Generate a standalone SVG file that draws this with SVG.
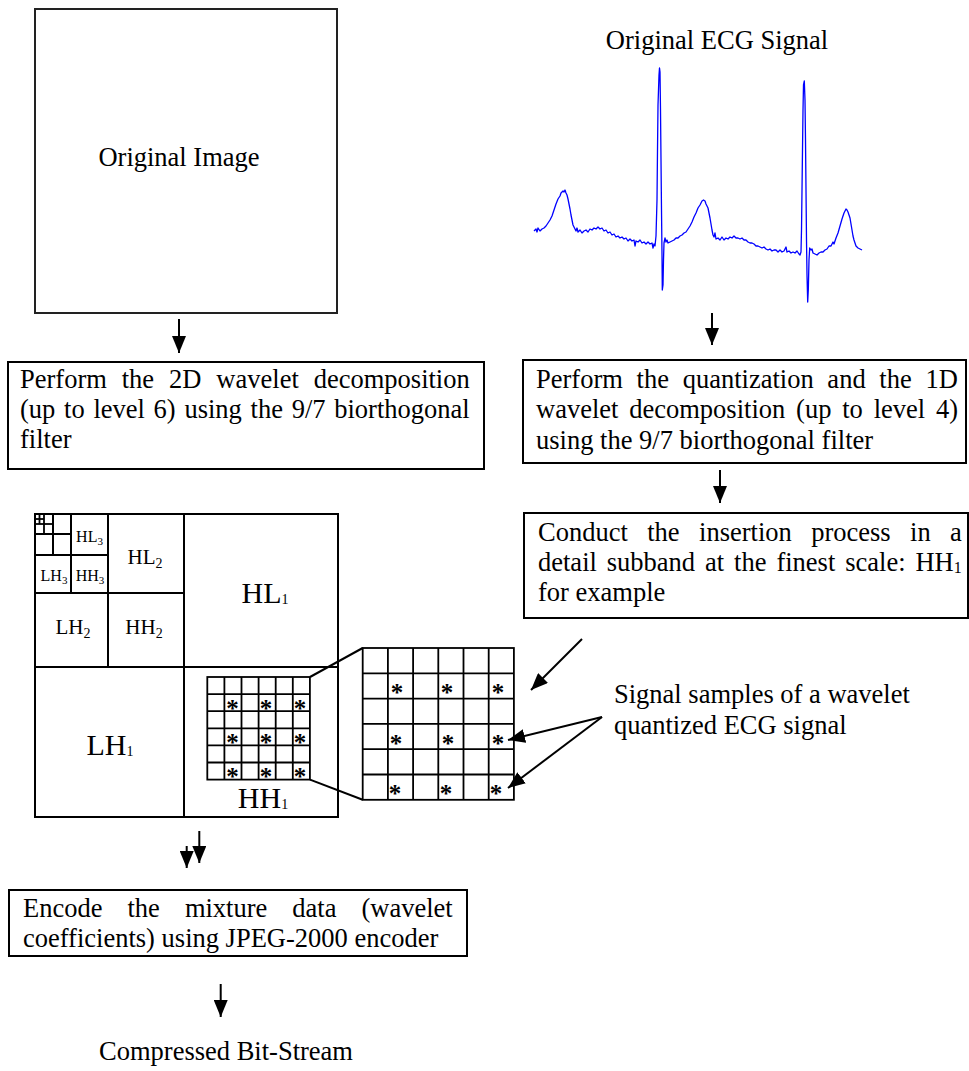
<svg xmlns="http://www.w3.org/2000/svg" width="969" height="1071" viewBox="0 0 969 1071">
<style>
  text { font-family: "Liberation Serif", "Times New Roman", serif; fill: #000; }
  .t { font-size: 26.5px; }
  .box { fill: #fff; stroke: #000; stroke-width: 2; }
  .ln { stroke: #000; stroke-width: 2; fill: none; }
  .gl { stroke: #000; stroke-width: 1.8; fill: none; }
  .arr { stroke: #000; stroke-width: 2; fill: none; marker-end: url(#ah); }
  .star { font-family: "Liberation Sans", Arial, sans-serif; font-size: 25px; font-weight: bold; }
</style>
<defs>
  <marker id="ah" markerUnits="userSpaceOnUse" markerWidth="18" markerHeight="14" refX="17" refY="7" orient="auto">
    <path d="M0,0 L17,7 L0,14 z" fill="#000"/>
  </marker>
</defs>
<rect width="969" height="1071" fill="#fff"/>

<g id="original-image">
  <rect x="35" y="9" width="302" height="304" fill="#fff" stroke="#222" stroke-width="2"/>
  <text class="t" x="179" y="166" text-anchor="middle">Original Image</text>
</g>

<g id="original-ecg">
  <text class="t" x="717" y="49" text-anchor="middle">Original ECG Signal</text>
  <polyline fill="none" stroke="#0000ff" stroke-width="1.3" stroke-linejoin="round" points="534,231 536,229 537,232 538,228 540,231 542,229 544,228 546,226 548,223 550,220 552,216 554,210 556,204 558,199 560,196 561,193 563,191 564,192 565,190 566,193 567,195 568,199 569,204 570,209 571,215 572,220 573,225 575,229 576,231 577,228 578,232 580,230 582,233 584,231 586,230 588,232 590,229 592,230 594,228 596,229 598,227 600,229 602,228 604,231 606,230 608,233 610,232 612,235 614,234 616,237 618,236 620,238 622,237 624,239 626,238 628,241 630,239 632,241 634,240 635,246 636,241 638,242 640,240 642,243 644,242 646,244 648,242 650,244 652,243 653,248 654,244 655,246 656,236 657,200 657.5,150 658,105 659,75 659.5,68 660,72 660.5,110 661,160 661.5,210 662,255 662.3,290 663,285 663.5,260 664,243 665,238 666,242 667,240 668,243 670,242 672,241 674,240 676,238 678,238 680,236 682,235 684,233 686,232 688,229 690,226 692,222 694,217 696,213 698,208 700,205 702,201 703.5,200 705,201 706,204 708,208 709,213 710,218 711,224 712,230 713,235 714,237 715,233 716,239 718,238 720,240 722,237 724,240 726,238 728,239 730,237 732,238 734,236 736,238 738,238 740,239 742,238 744,240 746,240 748,242 750,243 752,243 754,244 756,246 758,246 760,247 762,248 764,247 766,249 768,250 770,249 772,251 774,250 776,250 778,252 780,250 782,252 784,251 786,247 787,252 789,251 791,253 793,252 795,253 797,251 799,254 800,255 801,252 801.5,230 802,190 802.5,150 803,110 803.5,85 804.3,81 805,100 805.5,140 806,190 806.5,240 807,275 807.7,302 808.3,290 809,260 809.7,248 811,250 812,249 813,253 815,254 817,255 819,253 821,252 823,252 825,250 827,249 829,246 831,246 833,242 834,244 836,238 838,233 840,226 842,219 844,213 846,209 847,210 848,212 850,218 851,224 852,230 853,236 854,240 855,243 856,246 857,247 858,248 860,249 862,250"/>
</g>

<g id="box-2d-decomp">
  <rect class="box" x="8" y="362" width="476" height="107"/>
  <text class="t" x="20" y="388" style="word-spacing:8.3px">Perform the 2D wavelet decomposition</text>
  <text class="t" x="20" y="418" style="word-spacing:2.1px">(up to level 6) using the 9/7 biorthogonal</text>
  <text class="t" x="20" y="448">filter</text>
</g>

<g id="box-1d-decomp">
  <rect class="box" x="523" y="360" width="443" height="103"/>
  <text class="t" x="536" y="388" style="word-spacing:7.1px">Perform the quantization and the 1D</text>
  <text class="t" x="536" y="418" style="word-spacing:4.2px">wavelet decomposition (up to level 4)</text>
  <text class="t" x="536" y="449">using the 9/7 biorthogonal filter</text>
</g>

<g id="box-insertion">
  <rect class="box" x="524" y="513" width="444" height="105"/>
  <text class="t" x="538" y="541" style="word-spacing:12.8px">Conduct the insertion process in a</text>
  <text class="t" x="538" y="571" style="word-spacing:3.3px">detail subband at the finest scale: HH<tspan font-size="16" dy="2">1</tspan></text>
  <text class="t" x="538" y="601">for example</text>
</g>

<g id="decomposition">
  <rect x="35" y="514" width="303" height="303" fill="#fff" stroke="#000" stroke-width="2"/>
  <line class="ln" x1="184" y1="514" x2="184" y2="817"/>
  <line class="ln" x1="35" y1="667" x2="338" y2="667"/>
  <line class="ln" x1="108" y1="514" x2="108" y2="667"/>
  <line class="ln" x1="35" y1="593" x2="184" y2="593"/>
  <line class="ln" x1="71" y1="514" x2="71" y2="593"/>
  <line class="ln" x1="35" y1="555" x2="108" y2="555"/>
  <line class="ln" x1="53" y1="514" x2="53" y2="555"/>
  <line class="ln" x1="35" y1="534" x2="71" y2="534"/>
  <line class="gl" x1="44" y1="514" x2="44" y2="534"/>
  <line class="gl" x1="35" y1="524" x2="53" y2="524"/>
  <line class="gl" x1="39.5" y1="514" x2="39.5" y2="524"/>
  <line class="gl" x1="35" y1="519" x2="44" y2="519"/>
  <text x="89.5" y="542" font-size="16" text-anchor="middle">HL<tspan font-size="11" dy="3">3</tspan></text>
  <text x="54" y="581" font-size="16" text-anchor="middle">LH<tspan font-size="11" dy="3">3</tspan></text>
  <text x="90" y="581" font-size="16" text-anchor="middle">HH<tspan font-size="11" dy="3">3</tspan></text>
  <text x="145" y="564" font-size="21" text-anchor="middle">HL<tspan font-size="14" dy="4">2</tspan></text>
  <text x="73" y="634" font-size="21" text-anchor="middle">LH<tspan font-size="14" dy="4">2</tspan></text>
  <text x="144" y="634" font-size="21" text-anchor="middle">HH<tspan font-size="14" dy="4">2</tspan></text>
  <text x="265" y="603" font-size="30" text-anchor="middle">HL<tspan font-size="14" dy="1">1</tspan></text>
  <text x="110" y="755" font-size="30" text-anchor="middle">LH<tspan font-size="14" dy="1">1</tspan></text>
  <text x="263" y="808" font-size="30" text-anchor="middle">HH<tspan font-size="14" dy="1">1</tspan></text>
</g>

<g id="small-grid">
  <rect x="207.3" y="677" width="102.6" height="102.6" fill="#fff" stroke="#000" stroke-width="1.8"/>
  <path class="gl" d="M224.4,677 V779.6 M241.5,677 V779.6 M258.6,677 V779.6 M275.7,677 V779.6 M292.8,677 V779.6 M207.3,694.1 H309.9 M207.3,711.2 H309.9 M207.3,728.3 H309.9 M207.3,745.4 H309.9 M207.3,762.5 H309.9"/>
  <g class="star" text-anchor="middle">
    <text x="232.5" y="717">*</text><text x="266" y="717">*</text><text x="300" y="717">*</text>
    <text x="232.5" y="751">*</text><text x="266" y="751">*</text><text x="300" y="751">*</text>
    <text x="232.5" y="785">*</text><text x="266" y="785">*</text><text x="300" y="785">*</text>
  </g>
</g>

<g id="big-grid">
  <rect x="362.7" y="648" width="151.2" height="151.8" fill="#fff" stroke="#000" stroke-width="1.8"/>
  <path class="gl" d="M387.9,648 V799.8 M413.1,648 V799.8 M438.3,648 V799.8 M463.5,648 V799.8 M488.7,648 V799.8 M362.7,673.3 H513.9 M362.7,698.6 H513.9 M362.7,723.9 H513.9 M362.7,749.2 H513.9 M362.7,774.5 H513.9"/>
  <g class="star" text-anchor="middle">
    <text x="397" y="701">*</text><text x="447" y="701">*</text><text x="498" y="701">*</text>
    <text x="396" y="752">*</text><text x="448" y="752">*</text><text x="498" y="752">*</text>
    <text x="395" y="802">*</text><text x="446" y="802">*</text><text x="496" y="802">*</text>
  </g>
</g>

<g id="signal-label">
  <text class="t" x="614" y="703">Signal samples of a wavelet</text>
  <text class="t" x="614" y="734">quantized ECG signal</text>
</g>

<g id="box-encode">
  <rect class="box" x="9" y="890" width="458" height="66"/>
  <text class="t" x="23" y="917" style="word-spacing:18.4px">Encode the mixture data (wavelet</text>
  <text class="t" x="23" y="947">coefficients) using JPEG-2000 encoder</text>
</g>

<g id="output">
  <text class="t" x="226" y="1060" text-anchor="middle">Compressed Bit-Stream</text>
</g>

<g id="connectors">
  <line class="arr" x1="179" y1="319" x2="179" y2="353"/>
  <line class="arr" x1="712" y1="313" x2="712" y2="345"/>
  <line class="arr" x1="720" y1="470" x2="720" y2="503"/>
  <line class="arr" x1="582" y1="639" x2="531" y2="690"/>
  <line class="arr" x1="602" y1="717" x2="508" y2="740"/>
  <line class="arr" x1="602" y1="717" x2="508" y2="788"/>
  <line class="arr" x1="186.7" y1="846" x2="186.7" y2="868"/>
  <line class="arr" x1="199.3" y1="831" x2="199.3" y2="863"/>
  <line class="arr" x1="220.7" y1="984" x2="220.7" y2="1017"/>
  <line class="ln" x1="310" y1="677" x2="362.7" y2="648"/>
  <line class="ln" x1="310" y1="779.6" x2="362.7" y2="799.8"/>
</g>
</svg>
